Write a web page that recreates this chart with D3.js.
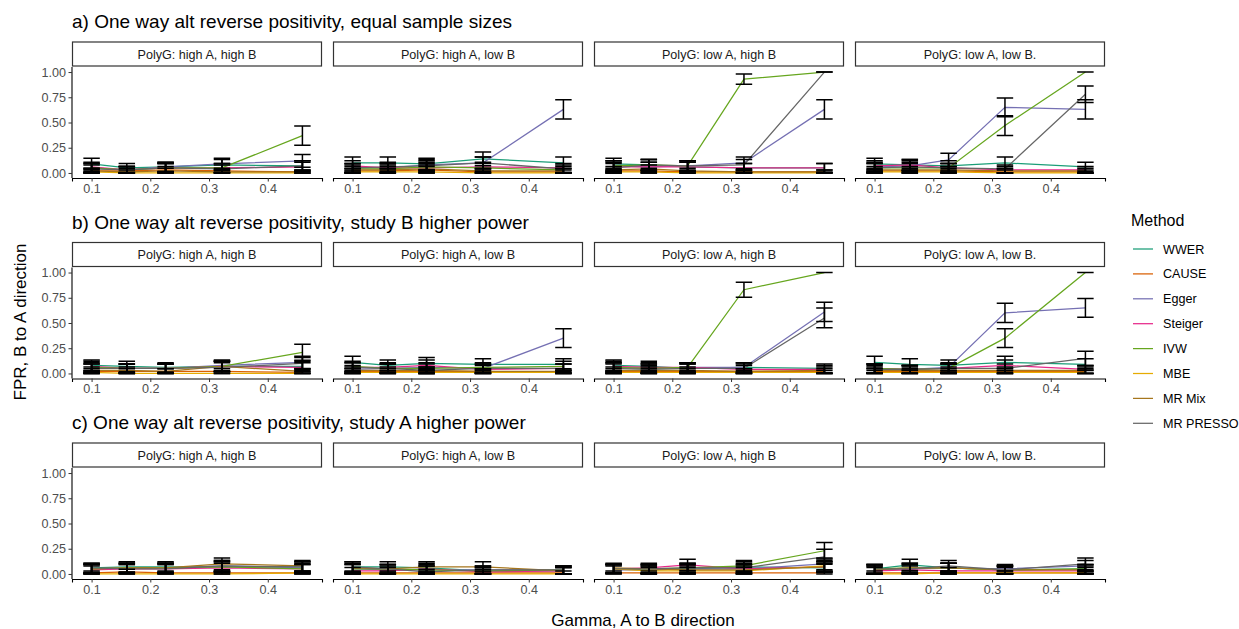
<!DOCTYPE html>
<html><head><meta charset="utf-8">
<script src="https://cdn.jsdelivr.net/npm/d3@7"></script>
<style>body{margin:0;background:#fff}svg{display:block;font-family:"Liberation Sans",Arial,sans-serif}</style>
</head><body><svg id="chart" width="1239" height="629"></svg>
<script>
// ---------- data ----------
const gammaValues = [0.1, 0.16, 0.226, 0.322, 0.459];
const methods = ["WWER", "CAUSE", "Egger", "Steiger", "IVW", "MBE", "MR Mix", "MR PRESSO"];
const methodColors = ["#1B9E77", "#D95F02", "#7570B3", "#E7298A", "#66A61E", "#E6AB02", "#A6761D", "#666666"];
const rowTitles = [
  "a) One way alt reverse positivity, equal sample sizes",
  "b) One way alt reverse positivity, study B higher power",
  "c) One way alt reverse positivity, study A higher power"
];
const stripLabels = ["PolyG: high A, high B", "PolyG: high A, low B", "PolyG: low A, high B", "PolyG: low A, low B."];
const yTicks = [0, 0.25, 0.5, 0.75, 1];
const xTicks = [0.1, 0.2, 0.3, 0.4];
const nSims = 100;

// FPR per method; rows = panels a1..a4, b1..b4, c1..c4; columns = gammaValues
const WWER = [
  [0.09,0.05,0.06,0.08,0.07],[0.10,0.10,0.09,0.14,0.10],[0.09,0.08,0.06,0.05,0.05],[0.09,0.08,0.07,0.10,0.06],
  [0.08,0.07,0.06,0.07,0.07],[0.11,0.08,0.10,0.09,0.09],[0.08,0.07,0.05,0.06,0.05],[0.11,0.09,0.08,0.11,0.09],
  [0.06,0.07,0.07,0.07,0.07],[0.07,0.07,0.06,0.03,0.03],[0.05,0.04,0.05,0.07,0.06],[0.05,0.09,0.06,0.04,0.05]
];
const CAUSE = [
  [0.02,0.02,0.03,0.02,0.01],[0.02,0.02,0.03,0.01,0.01],[0.02,0.02,0.01,0.01,0.01],[0.02,0.02,0.02,0.01,0.01],
  [0.02,0.02,0.02,0.02,0.01],[0.02,0.02,0.02,0.02,0.01],[0.02,0.02,0.02,0.02,0.02],[0.02,0.02,0.02,0.02,0.02],
  [0.01,0.02,0.01,0.01,0.01],[0.01,0.01,0.01,0.01,0.01],[0.01,0.01,0.01,0.01,0.01],[0.01,0.01,0.01,0.01,0.01]
];
const Egger = [
  [0.05,0.03,0.06,0.09,0.12],[0.05,0.05,0.08,0.10,0.63],[0.07,0.06,0.07,0.10,0.63],[0.06,0.07,0.13,0.65,0.63],
  [0.05,0.05,0.05,0.08,0.11],[0.04,0.05,0.06,0.05,0.35],[0.06,0.05,0.06,0.06,0.61],[0.05,0.04,0.06,0.60,0.65],
  [0.05,0.06,0.06,0.08,0.06],[0.05,0.04,0.04,0.04,0.04],[0.04,0.04,0.05,0.05,0.10],[0.04,0.05,0.06,0.05,0.08]
];
const Steiger = [
  [0.06,0.03,0.05,0.05,0.06],[0.07,0.05,0.05,0.06,0.05],[0.06,0.06,0.06,0.05,0.05],[0.07,0.08,0.05,0.03,0.03],
  [0.07,0.05,0.05,0.07,0.06],[0.06,0.06,0.08,0.04,0.05],[0.07,0.06,0.06,0.04,0.04],[0.05,0.04,0.05,0.08,0.04],
  [0.04,0.05,0.05,0.06,0.05],[0.03,0.03,0.05,0.02,0.03],[0.05,0.06,0.09,0.05,0.07],[0.03,0.04,0.03,0.03,0.03]
];
const IVW = [
  [0.05,0.03,0.05,0.05,0.37],[0.04,0.04,0.06,0.05,0.03],[0.07,0.08,0.07,0.93,1.00],[0.05,0.05,0.05,0.47,1.00],
  [0.06,0.05,0.05,0.07,0.21],[0.07,0.05,0.05,0.06,0.07],[0.06,0.05,0.06,0.83,1.00],[0.05,0.04,0.05,0.35,1.00],
  [0.05,0.06,0.06,0.07,0.05],[0.05,0.05,0.04,0.03,0.04],[0.05,0.05,0.06,0.08,0.23],[0.05,0.06,0.06,0.04,0.05]
];
const MBE = [
  [0.01,0.00,0.00,0.00,0.00],[0.01,0.01,0.01,0.00,0.00],[0.01,0.01,0.00,0.00,0.00],[0.01,0.01,0.01,0.00,0.00],
  [0.01,0.00,0.00,0.00,0.00],[0.01,0.01,0.01,0.01,0.01],[0.01,0.01,0.01,0.01,0.01],[0.01,0.01,0.01,0.01,0.01],
  [0.00,0.00,0.00,0.00,0.01],[0.00,0.00,0.00,0.00,0.00],[0.05,0.03,0.03,0.03,0.08],[0.00,0.00,0.01,0.01,0.01]
];
const MRMix = [
  [0.02,0.01,0.02,0.01,0.01],[0.03,0.03,0.04,0.02,0.02],[0.03,0.04,0.02,0.01,0.01],[0.03,0.03,0.03,0.02,0.02],
  [0.03,0.03,0.02,0.07,0.02],[0.03,0.03,0.03,0.02,0.02],[0.03,0.03,0.03,0.02,0.03],[0.03,0.03,0.03,0.03,0.03],
  [0.05,0.06,0.06,0.10,0.08],[0.06,0.05,0.07,0.07,0.03],[0.06,0.05,0.04,0.04,0.07],[0.04,0.06,0.06,0.04,0.04]
];
const MRPRESSO = [
  [0.04,0.03,0.05,0.04,0.07],[0.05,0.06,0.07,0.10,0.04],[0.05,0.08,0.07,0.08,1.00],[0.05,0.06,0.05,0.04,0.78],
  [0.05,0.05,0.05,0.06,0.10],[0.06,0.05,0.03,0.05,0.05],[0.05,0.04,0.05,0.05,0.55],[0.04,0.04,0.05,0.05,0.15],
  [0.06,0.05,0.05,0.08,0.07],[0.07,0.05,0.02,0.04,0.04],[0.05,0.05,0.06,0.06,0.17],[0.05,0.05,0.08,0.04,0.10]
];
const methodData = [WWER, CAUSE, Egger, Steiger, IVW, MBE, MRMix, MRPRESSO];

// ---------- layout ----------
const svg = d3.select("#chart");
const panelW = 250, panelH = 111, panelStep = 261, panelLeft0 = 72;
const rowTops = [67, 267.5, 468];
const errW = 0.028;
const smallFont = 12.6, axisTitleFont = 17, titleFont = 19;
const FONT = "Liberation Sans, Arial, sans-serif";

const xDomLo = d3.min(gammaValues) - errW / 2, xDomHi = d3.max(gammaValues) + errW / 2;
const xPad = (xDomHi - xDomLo) * 0.05;
const x = d3.scaleLinear().domain([xDomLo - xPad, xDomHi + xPad]).range([0, panelW]);
const y = d3.scaleLinear().domain([-0.05, 1.05]).range([panelH, 0]);

function ci(p) {
  const h = 1.96 * Math.sqrt(p * (1 - p) / nSims);
  return [Math.max(0, p - h), Math.min(1, p + h)];
}

const line = d3.line().x(d => x(d.g)).y(d => y(d.v));

rowTitles.forEach((title, r) => {
  const top = rowTops[r];
  svg.append("text").attr("x", 72).attr("y", top - 39).attr("font-size", titleFont).attr("fill", "#000").text(title);

  stripLabels.forEach((lab, c) => {
    const left = panelLeft0 + c * panelStep;
    const p = r * 4 + c;
    // strip
    svg.append("rect").attr("x", left + 0.5).attr("y", top - 25).attr("width", panelW - 1).attr("height", 24)
      .attr("fill", "#fff").attr("stroke", "#333").attr("stroke-width", 1.2);
    svg.append("text").attr("x", left + panelW / 2).attr("y", top - 13 + 4.5).attr("text-anchor", "middle")
      .attr("font-size", smallFont).attr("fill", "#1A1A1A").text(lab);

    const g = svg.append("g").attr("transform", `translate(${left},${top})`);
    // x axis
    const xa = g.append("g").attr("transform", `translate(0,${panelH})`)
      .call(d3.axisBottom(x).tickValues(xTicks).tickSize(3.5).tickPadding(2.5).tickFormat(d3.format(".1f")));
    xa.select(".domain").attr("stroke", "#000").attr("stroke-width", 1.1);
    xa.selectAll(".tick line").attr("stroke", "#333");
    xa.selectAll(".tick text").attr("fill", "#4D4D4D").attr("font-size", smallFont).attr("font-family", FONT);
    if (c === 0) {
      const ya = g.append("g").call(d3.axisLeft(y).tickValues(yTicks).tickSize(3.5).tickPadding(2.5).tickFormat(d3.format(".2f")));
      ya.select(".domain").attr("stroke", "#000").attr("stroke-width", 1.1).attr("d", `M0,0V${panelH}`);
      ya.selectAll(".tick line").attr("stroke", "#333");
      ya.selectAll(".tick text").attr("fill", "#4D4D4D").attr("font-size", smallFont).attr("font-family", FONT);
    }

    // lines
    methodData.forEach((md, m) => {
      const pts = gammaValues.map((gv, i) => ({ g: gv, v: md[p][i] }));
      g.append("path").datum(pts).attr("d", line).attr("fill", "none")
        .attr("stroke", methodColors[m]).attr("stroke-width", 1.25);
    });
    // error bars
    methodData.forEach((md) => {
      gammaValues.forEach((gv, i) => {
        const [lo, hi] = ci(md[p][i]);
        const cx = x(gv), x0 = x(gv - errW / 2), x1 = x(gv + errW / 2);
        const eg = g.append("g").attr("stroke", "#000").attr("stroke-width", 1.5).attr("fill", "none");
        eg.append("path").attr("d", `M${x0},${y(hi)}H${x1}M${cx},${y(hi)}V${y(lo)}M${x0},${y(lo)}H${x1}`);
      });
    });
  });
});

// axis titles
svg.append("text").attr("x", 643).attr("y", 626).attr("text-anchor", "middle").attr("font-size", axisTitleFont).attr("fill", "#000")
  .text("Gamma, A to B direction");
svg.append("text").attr("transform", "translate(26,322) rotate(-90)").attr("text-anchor", "middle")
  .attr("font-size", axisTitleFont).attr("fill", "#000").text("FPR, B to A direction");

// legend
const lg = svg.append("g").attr("transform", "translate(1131,0)");
lg.append("text").attr("x", 0).attr("y", 226).attr("font-size", 16).attr("fill", "#000").text("Method");
methods.forEach((name, i) => {
  const cy = 249 + i * 24.9;
  lg.append("line").attr("x1", 2).attr("x2", 22).attr("y1", cy).attr("y2", cy)
    .attr("stroke", methodColors[i]).attr("stroke-width", 1.25);
  lg.append("text").attr("x", 32).attr("y", cy + 4.5).attr("font-size", smallFont).attr("fill", "#000").text(name);
});
</script></body></html>
